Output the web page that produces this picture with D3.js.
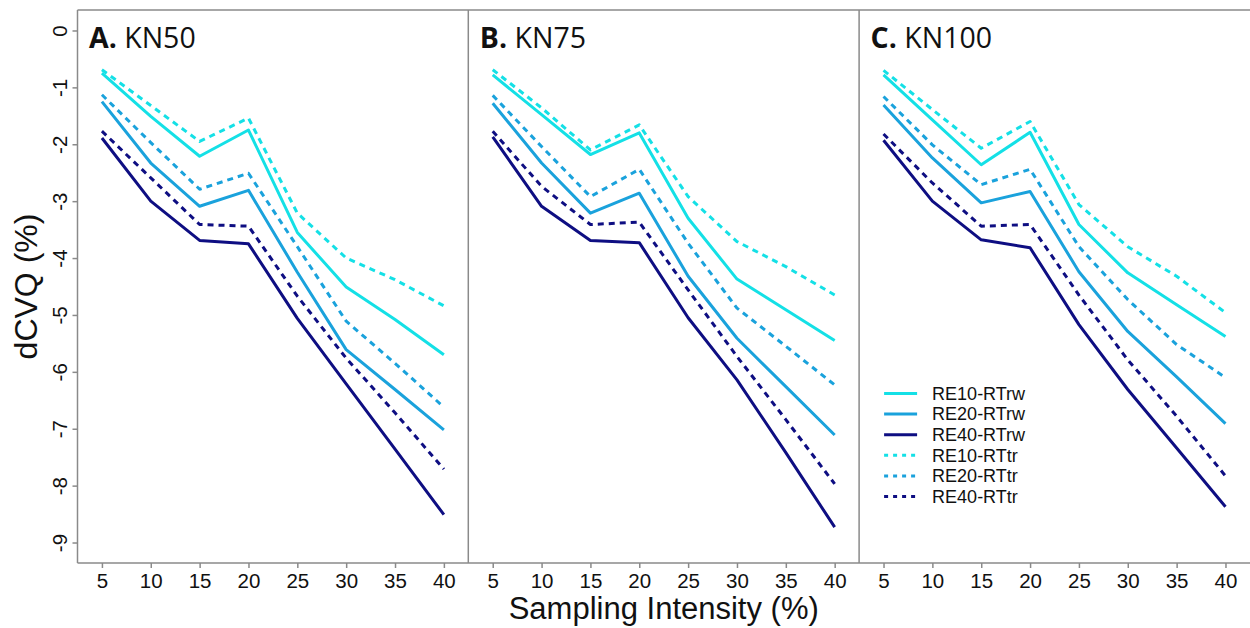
<!DOCTYPE html>
<html>
<head>
<meta charset="utf-8">
<script src="https://cdn.jsdelivr.net/npm/d3@7"></script>
<style>
  body { margin: 0; background: #fff; }
  text { font-family: "Liberation Sans", Arial, sans-serif; fill: #111; }
  .ptitle { font-family: "Open Sans", "Noto Sans", sans-serif; }
</style>
</head>
<body>
<div id="graphicContainer"></div>
<script>
// sampling intensity (%)
const sampling = [5, 10, 15, 20, 25, 30, 35, 40]
const xTicks = [5, 10, 15, 20, 25, 30, 35, 40]
const yTicks = [0, -1, -2, -3, -4, -5, -6, -7, -8, -9]

const panelLetters = ["A.", "B.", "C."]
const panelNames = ["KN50", "KN75", "KN100"]
const seriesNames = ["RE10-RTrw", "RE20-RTrw", "RE40-RTrw", "RE10-RTtr", "RE20-RTtr", "RE40-RTtr"]

// dCVQ (%)
const kn50_RE10_RTrw = [-0.75, -1.51, -2.21, -1.75, -3.55, -4.51, -5.08, -5.70]
const kn50_RE20_RTrw = [-1.25, -2.33, -3.09, -2.81, -4.25, -5.61, -6.31, -7.02]
const kn50_RE40_RTrw = [-1.89, -3.00, -3.69, -3.75, -5.06, -6.21, -7.36, -8.51]
const kn50_RE10_RTtr = [-0.69, -1.32, -1.95, -1.54, -3.21, -4.00, -4.38, -4.84]
const kn50_RE20_RTtr = [-1.13, -1.97, -2.79, -2.51, -3.80, -5.11, -5.85, -6.62]
const kn50_RE40_RTtr = [-1.77, -2.59, -3.41, -3.44, -4.67, -5.76, -6.72, -7.71]

const kn75_RE10_RTrw = [-0.78, -1.48, -2.18, -1.80, -3.30, -4.37, -4.91, -5.45]
const kn75_RE20_RTrw = [-1.28, -2.33, -3.21, -2.86, -4.32, -5.41, -6.26, -7.11]
const kn75_RE40_RTrw = [-1.87, -3.09, -3.69, -3.73, -5.05, -6.14, -7.42, -8.73]
const kn75_RE10_RTtr = [-0.69, -1.36, -2.10, -1.66, -2.92, -3.71, -4.15, -4.65]
const kn75_RE20_RTtr = [-1.14, -2.04, -2.92, -2.44, -3.74, -4.88, -5.55, -6.23]
const kn75_RE40_RTtr = [-1.77, -2.74, -3.41, -3.37, -4.56, -5.73, -6.84, -7.97]

const kn100_RE10_RTrw = [-0.78, -1.57, -2.36, -1.79, -3.41, -4.26, -4.82, -5.38]
const kn100_RE20_RTrw = [-1.31, -2.24, -3.03, -2.83, -4.24, -5.29, -6.09, -6.91]
const kn100_RE40_RTrw = [-1.93, -3.00, -3.68, -3.82, -5.17, -6.31, -7.34, -8.37]
const kn100_RE10_RTtr = [-0.70, -1.39, -2.07, -1.60, -3.06, -3.80, -4.32, -4.96]
const kn100_RE20_RTtr = [-1.16, -2.01, -2.71, -2.44, -3.80, -4.73, -5.52, -6.10]
const kn100_RE40_RTtr = [-1.82, -2.68, -3.44, -3.41, -4.65, -5.79, -6.78, -7.83]

const panelData = [
	[kn50_RE10_RTrw, kn50_RE20_RTrw, kn50_RE40_RTrw, kn50_RE10_RTtr, kn50_RE20_RTtr, kn50_RE40_RTtr],
	[kn75_RE10_RTrw, kn75_RE20_RTrw, kn75_RE40_RTrw, kn75_RE10_RTtr, kn75_RE20_RTtr, kn75_RE40_RTtr],
	[kn100_RE10_RTrw, kn100_RE20_RTrw, kn100_RE40_RTrw, kn100_RE10_RTtr, kn100_RE20_RTtr, kn100_RE40_RTtr]
]

const colors = ["#14e0e6", "#1aa2dc", "#0e0e82", "#14e0e6", "#1aa2dc", "#0e0e82"]
const dashed = [false, false, false, true, true, true]

function init() {
	var width = 1250, height = 628
	var top = 10, bottom = 563
	var left0 = 77.5, panelW = 390.8
	var frameCol = "#8a8a8a"
	var tickFont = "20.5px"

	var svg = d3.select("#graphicContainer").append("svg")
		.attr("width", width)
		.attr("height", height)

	var y = d3.scaleLinear().domain([-9.36, 0.36]).range([bottom, top])

	// frame
	svg.append("line").attr("x1", left0).attr("x2", width).attr("y1", top).attr("y2", top)
		.attr("stroke", frameCol).attr("stroke-width", 1.5)
	svg.append("line").attr("x1", left0).attr("x2", width).attr("y1", bottom).attr("y2", bottom)
		.attr("stroke", frameCol).attr("stroke-width", 1.5)
	for (var i = 0; i < 3; i++) {
		svg.append("line").attr("x1", left0 + i * panelW).attr("x2", left0 + i * panelW)
			.attr("y1", top).attr("y2", bottom)
			.attr("stroke", frameCol).attr("stroke-width", 1.5)
	}

	// y axis
	var yAxis = d3.axisLeft(y).tickValues(yTicks).tickSize(5).tickFormat(function(d) { return d })
	var yg = svg.append("g").attr("transform", "translate(" + left0 + ",0)").call(yAxis)
	yg.select(".domain").remove()
	yg.selectAll(".tick line").attr("stroke", frameCol).attr("stroke-width", 1.5)
	yg.selectAll(".tick text")
		.attr("x", null).attr("dy", null)
		.attr("text-anchor", "middle")
		.attr("transform", "translate(-10.5,0) rotate(-90)")
		.style("font-size", tickFont)
		.style("font-family", "'Liberation Sans', Arial, sans-serif")
		.attr("fill", "#111")

	svg.append("text")
		.attr("transform", "translate(37," + ((top + bottom) / 2) + ") rotate(-90)")
		.attr("text-anchor", "middle")
		.style("font-size", "32px")
		.text("dCVQ (%)")

	panelData.forEach(function(series, p) {
		var left = left0 + p * panelW
		var x = d3.scaleLinear().domain([2.5, 42.5]).range([left, left + panelW])

		var xAxis = d3.axisBottom(x).tickValues(xTicks).tickSize(5)
		var xg = svg.append("g").attr("transform", "translate(0," + bottom + ")").call(xAxis)
		xg.select(".domain").remove()
		xg.selectAll(".tick line").attr("stroke", frameCol).attr("stroke-width", 1.5)
		xg.selectAll(".tick text")
			.attr("y", 10)
			.attr("dy", "0.71em")
			.style("font-size", tickFont)
			.style("font-family", "'Liberation Sans', Arial, sans-serif")
			.attr("fill", "#111")

		var line = d3.line()
			.x(function(d, i) { return x(sampling[i]) })
			.y(function(d) { return y(d) })

		// draw dashed first, solid on top
		var order = [3, 4, 5, 0, 1, 2]
		order.forEach(function(k) {
			svg.append("path")
				.datum(series[k])
				.attr("d", line)
				.attr("fill", "none")
				.attr("stroke", colors[k])
				.attr("stroke-width", 3)
				.attr("stroke-linejoin", "round")
				.attr("stroke-dasharray", dashed[k] ? "6,5" : null)
		})

		var title = svg.append("text")
			.attr("class", "ptitle")
			.attr("x", left + 11.5)
			.attr("y", 48)
			.style("font-size", "28.5px")
		title.append("tspan").style("font-weight", "bold").text(panelLetters[p])
		title.append("tspan").text(" " + panelNames[p])
	})

	// legend in panel C
	var legX = left0 + 2 * panelW + 25
	var legY = 393.5
	var rowH = 20.6
	seriesNames.forEach(function(name, k) {
		var g = svg.append("g").attr("transform", "translate(" + legX + "," + (legY + k * rowH) + ")")
		g.append("line")
			.attr("x1", 0).attr("x2", 33)
			.attr("y1", 0).attr("y2", 0)
			.attr("stroke", colors[k])
			.attr("stroke-width", 3)
			.attr("stroke-dasharray", dashed[k] ? "4,5" : null)
		g.append("text")
			.attr("x", 48)
			.attr("dy", "0.35em")
			.style("font-size", "18px")
			.text(name)
	})

	svg.append("text")
		.attr("x", (left0 + width) / 2)
		.attr("y", 619)
		.attr("text-anchor", "middle")
		.style("font-size", "31px")
		.text("Sampling Intensity (%)")
}

init()
</script>
</body>
</html>
